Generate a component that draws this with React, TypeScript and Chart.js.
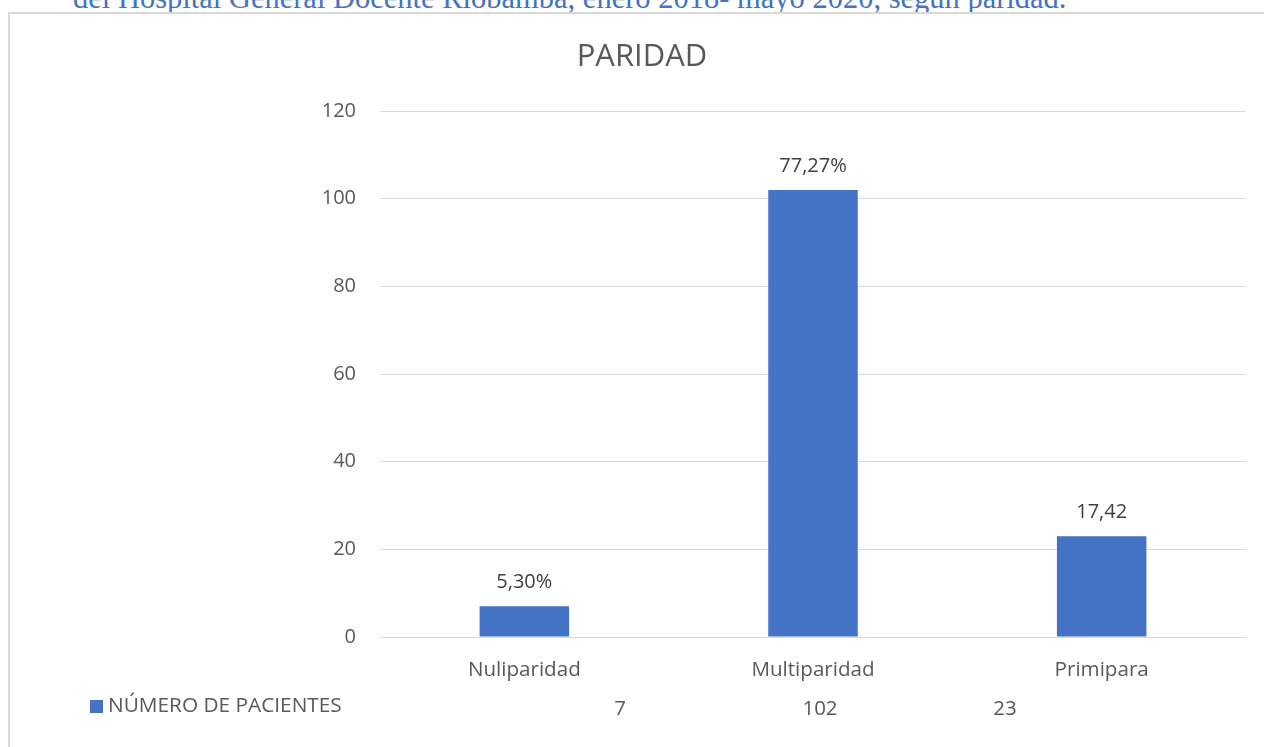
import React, { useEffect, useRef } from "react";
import { Chart, registerables } from "chart.js";

Chart.register(...registerables);

const categories = ["Nuliparidad", "Multiparidad", "Primipara"];
const patientCounts = [7, 102, 23];
const barLabels = ["5,30%", "77,27%", "17,42"];
const seriesName = "NÚMERO DE PACIENTES";
const chartTitle = "PARIDAD";
const headingText = "del Hospital General Docente Riobamba, enero 2018- mayo 2020, según paridad.";
const yTicks = [0, 20, 40, 60, 80, 100, 120];

const BAR_COLOR = "#4472C4";
const TEXT_COLOR = "#595959";
const LABEL_COLOR = "#404040";
const GRID_COLOR = "#d9d9d9";
const FONT = "'Open Sans', sans-serif";

export default function App() {
  const canvasRef = useRef<HTMLCanvasElement | null>(null);

  useEffect(() => {
    if (!canvasRef.current) return;

    const overlay = {
      id: "overlay",
      afterDraw(chart: any) {
        const ctx = chart.ctx;
        ctx.save();
        // title
        ctx.fillStyle = TEXT_COLOR;
        ctx.font = `31px ${FONT}`;
        ctx.textAlign = "center";
        ctx.textBaseline = "middle";
        ctx.fillText(chartTitle, 642, 57);

        // data labels above bars
        const meta = chart.getDatasetMeta(0);
        ctx.font = `20px ${FONT}`;
        ctx.fillStyle = LABEL_COLOR;
        meta.data.forEach((bar: any, i: number) => {
          ctx.fillText(barLabels[i], bar.x, bar.y - 24);
        });

        // legend key of the data table
        ctx.fillStyle = BAR_COLOR;
        ctx.fillRect(90, 700, 13, 13);
        ctx.fillStyle = TEXT_COLOR;
        ctx.textAlign = "left";
        ctx.font = `20.8px ${FONT}`;
        ctx.fillText(seriesName, 108, 706);

        // data table values
        const valueX = [620, 820, 1005];
        ctx.textAlign = "center";
        ctx.font = `20.5px ${FONT}`;
        patientCounts.forEach((v, i) => {
          ctx.fillText(String(v), valueX[i], 709);
        });
        ctx.restore();
      },
    };

    const chart = new Chart(canvasRef.current, {
      type: "bar",
      data: {
        labels: categories,
        datasets: [
          {
            label: seriesName,
            data: patientCounts,
            backgroundColor: BAR_COLOR,
            barPercentage: 0.31,
            categoryPercentage: 1,
          },
        ],
      },
      options: {
        animation: false,
        responsive: true,
        maintainAspectRatio: false,
        layout: { padding: { top: 111, right: 18, bottom: 50, left: 0 } },
        plugins: {
          legend: { display: false },
          title: { display: false },
          tooltip: { enabled: false },
        },
        scales: {
          x: {
            grid: { display: false, drawTicks: false },
            border: { display: false },
            ticks: {
              font: { family: FONT, size: 20.6 },
              color: TEXT_COLOR,
              padding: 21,
            },
            afterFit: (s: any) => {
              s.height = 60;
            },
          },
          y: {
            min: 0,
            max: 120,
            afterBuildTicks: (s: any) => {
              s.ticks = yTicks.map((v) => ({ value: v }));
            },
            grid: { color: GRID_COLOR, lineWidth: 1, drawTicks: false },
            border: { display: false },
            ticks: {
              font: { family: FONT, size: 20 },
              color: TEXT_COLOR,
              padding: 24,
            },
            afterFit: (s: any) => {
              s.width = 380;
            },
          },
        },
      },
      plugins: [overlay],
    });
    return () => chart.destroy();
  }, []);

  return (
    <div
      style={{
        position: "fixed",
        left: 0,
        top: 0,
        width: 1264,
        height: 747,
        overflow: "hidden",
        background: "#fff",
      }}
    >
      <div
        style={{
          position: "absolute",
          left: 73,
          top: -17,
          fontFamily: "'Liberation Serif', 'Times New Roman', serif",
          fontSize: 30.5,
          lineHeight: "30.5px",
          color: "#4472C4",
          whiteSpace: "nowrap",
        }}
      >
        {headingText}
      </div>
      <div
        style={{
          position: "absolute",
          left: 8,
          top: 12,
          width: 1300,
          height: 800,
          border: `2px solid ${GRID_COLOR}`,
          boxSizing: "border-box",
          background: "#fff",
        }}
      />
      <div style={{ position: "absolute", left: 0, top: 0, width: 1264, height: 747 }}>
        <canvas ref={canvasRef} />
      </div>
    </div>
  );
}
